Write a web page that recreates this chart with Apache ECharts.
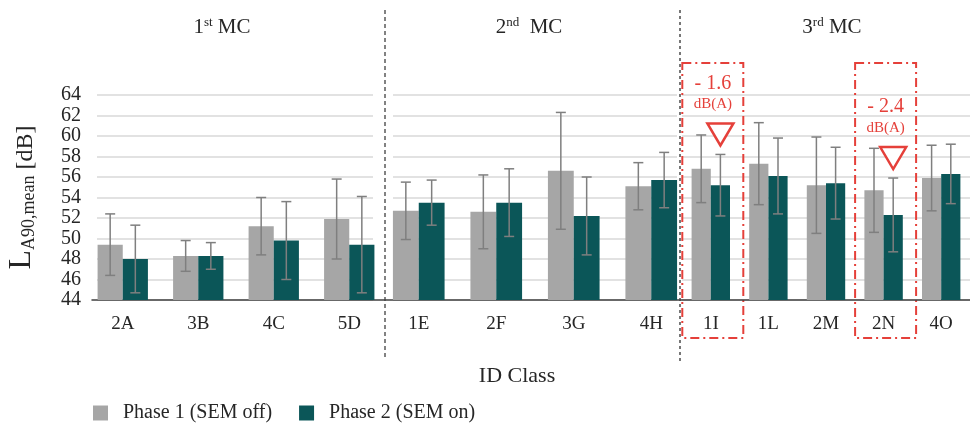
<!DOCTYPE html>
<html>
<head>
<meta charset="utf-8">
<script src="https://cdn.jsdelivr.net/npm/echarts@6/dist/echarts.min.js"></script>
<style>
  html, body { margin: 0; padding: 0; background: #fff; }
  #chart { width: 970px; height: 427px; }
</style>
</head>
<body>
<div id="chart"></div>
<script>
// ID classes per measurement campaign (MC)
const mc1Classes = ['2A', '3B', '4C', '5D'];
const mc2Classes = ['1E', '2F', '3G', '4H'];
const mc3Classes = ['1I', '1L', '2M', '2N', '4O'];

// Mean LA90 [dB], Phase 1 (SEM off)
const mc1Phase1 = [49.4, 48.3, 51.2, 51.9];
const mc2Phase1 = [52.7, 52.6, 56.6, 55.1];
const mc3Phase1 = [56.8, 57.3, 55.2, 54.7, 55.9];

// Mean LA90 [dB], Phase 2 (SEM on)
const mc1Phase2 = [48.0, 48.3, 49.8, 49.4];
const mc2Phase2 = [53.5, 53.5, 52.2, 55.7];
const mc3Phase2 = [55.2, 56.1, 55.4, 52.3, 56.3];

// Error bar half-widths [dB]
const mc1Err1 = [3.0, 1.5, 2.8, 3.9];
const mc2Err1 = [2.8, 3.6, 5.7, 2.3];
const mc3Err1 = [3.3, 4.0, 4.7, 4.1, 3.2];
const mc1Err2 = [3.3, 1.3, 3.8, 4.7];
const mc2Err2 = [2.2, 3.3, 3.8, 2.7];
const mc3Err2 = [3.0, 3.7, 3.5, 3.6, 2.9];

// Value axis
const yMin = 44, yMax = 64, yStep = 2;

// Classes in the 3rd MC with a highlighted reduction
const highlighted = ['1I', '2N'];

const seriesNames = ['Phase 1 (SEM off)', 'Phase 2 (SEM on)'];
const titles = [
  '{n|1}{s|st}{n| MC}',
  '{n|2}{s|nd}{n|  MC}',
  '{n|3}{s|rd}{n| MC}'
];

const FONT = '"Liberation Serif", "Times New Roman", serif';
const TEXT = '#262626';
const GREY = '#a6a6a6';
const TEAL = '#0b5658';
const ERR = '#7f7f7f';
const RED = '#e5403a';

const groups = [
  { cats: mc1Classes, p1: mc1Phase1, p2: mc1Phase2, e1: mc1Err1, e2: mc1Err2 },
  { cats: mc2Classes, p1: mc2Phase1, p2: mc2Phase2, e1: mc2Err1, e2: mc2Err2 },
  { cats: mc3Classes, p1: mc3Phase1, p2: mc3Phase2, e1: mc3Err1, e2: mc3Err2 }
];

// Bar panels, gridline panels, and one full-width frame for the baseline
const barGrids = [
  { left: 85, width: 302 },
  { left: 380, width: 310 },
  { left: 682, width: 300 }
];
const lineGrids = [
  { left: 97, width: 276 },
  { left: 393, width: 284 },
  { left: 682, width: 288 }
];
const frameGrid = { left: 92, width: 878 };

const grid = [];
const xAxis = [];
const yAxis = [];
const series = [];

barGrids.forEach((g, i) => {
  grid.push({ left: g.left, width: g.width, top: 95, height: 205 });
  xAxis.push({
    type: 'category', gridIndex: i, data: groups[i].cats,
    axisLine: { show: false }, axisTick: { show: false },
    axisLabel: { fontFamily: FONT, fontSize: 19, color: TEXT, margin: 15 }
  });
  yAxis.push({ type: 'value', gridIndex: i, min: yMin, max: yMax, interval: yStep, show: false });
});

lineGrids.forEach((g, i) => {
  grid.push({ left: g.left, width: g.width, top: 95, height: 205 });
  xAxis.push({ type: 'value', gridIndex: 3 + i, min: 0, max: 1, show: false });
  const ax = {
    type: 'value', gridIndex: 3 + i, min: yMin, max: yMax, interval: yStep,
    axisLine: { show: false }, axisTick: { show: false },
    splitLine: { show: true, lineStyle: { color: '#d9d9d9', width: 1.5 } },
    axisLabel: { show: i === 0, fontFamily: FONT, fontSize: 20, color: TEXT, margin: 16 }
  };
  if (i === 0) {
    ax.name = '{L|L}{s|A90,mean}{u| [dB]}';
    ax.nameLocation = 'middle';
    ax.nameRotate = 90;
    ax.nameGap = 59;
    ax.nameTextStyle = {
      rich: {
        L: { fontFamily: FONT, fontSize: 32, color: TEXT, verticalAlign: 'bottom' },
        s: { fontFamily: FONT, fontSize: 18, color: TEXT, verticalAlign: 'bottom' },
        u: { fontFamily: FONT, fontSize: 24, color: TEXT, verticalAlign: 'bottom' }
      }
    };
  }
  yAxis.push(ax);
});

grid.push({ left: frameGrid.left, width: frameGrid.width, top: 95, height: 205 });
xAxis.push({
  type: 'value', gridIndex: 6, min: 0, max: 1, position: 'bottom',
  axisLine: { show: true, onZero: false, lineStyle: { color: '#404040', width: 1.5 } },
  axisTick: { show: false }, axisLabel: { show: false }, splitLine: { show: false }
});
yAxis.push({ type: 'value', gridIndex: 6, min: yMin, max: yMax, show: false });

// Error bar drawn at the centre of a bar: side -1 = left bar, +1 = right bar
function errorRenderer(side) {
  return function (params, api) {
    const idx = api.value(0);
    const mean = api.value(1);
    const err = api.value(2);
    const band = api.size([1, 0])[0];
    const x = api.coord([idx, mean])[0] + side * band / 6;
    const yTop = api.coord([idx, mean + err])[1];
    const yBot = api.coord([idx, mean - err])[1];
    const cap = 5;
    const style = { stroke: ERR, lineWidth: 1.5 };
    return {
      type: 'group',
      children: [
        { type: 'line', shape: { x1: x, y1: yTop, x2: x, y2: yBot }, style },
        { type: 'line', shape: { x1: x - cap, y1: yTop, x2: x + cap, y2: yTop }, style },
        { type: 'line', shape: { x1: x - cap, y1: yBot, x2: x + cap, y2: yBot }, style }
      ]
    };
  };
}

groups.forEach((g, i) => {
  series.push({
    name: seriesNames[0], type: 'bar', xAxisIndex: i, yAxisIndex: i,
    data: g.p1, itemStyle: { color: GREY }, barGap: '0%', barCategoryGap: '33.34%'
  });
  series.push({
    name: seriesNames[1], type: 'bar', xAxisIndex: i, yAxisIndex: i,
    data: g.p2, itemStyle: { color: TEAL }, barGap: '0%', barCategoryGap: '33.34%'
  });
  series.push({
    type: 'custom', xAxisIndex: i, yAxisIndex: i, z: 5,
    renderItem: errorRenderer(-1), encode: { x: 0, y: 1 },
    data: g.p1.map((v, k) => [k, v, g.e1[k]])
  });
  series.push({
    type: 'custom', xAxisIndex: i, yAxisIndex: i, z: 5,
    renderItem: errorRenderer(1), encode: { x: 0, y: 1 },
    data: g.p2.map((v, k) => [k, v, g.e2[k]])
  });
});

const chart = echarts.init(document.getElementById('chart'), null, { renderer: 'canvas' });

chart.setOption({
  animation: false,
  backgroundColor: '#fff',
  grid, xAxis, yAxis, series,
  legend: {
    data: seriesNames, icon: 'rect', left: 88, top: 398,
    itemWidth: 15, itemHeight: 15, itemGap: 27,
    textStyle: { fontFamily: FONT, fontSize: 20, color: TEXT, padding: [0, 0, 0, 10] }
  }
});

// Decorations: campaign titles, dividers, axis title, highlighted classes
const graphic = [];
const titleX = [222, 529, 832];
titles.forEach((t, i) => {
  graphic.push({
    type: 'text', x: titleX[i], y: 27,
    style: {
      text: t, align: 'center', verticalAlign: 'middle',
      rich: {
        n: { fontFamily: FONT, fontSize: 21, fill: TEXT, verticalAlign: 'bottom' },
        s: { fontFamily: FONT, fontSize: 13, fill: TEXT, verticalAlign: 'top' }
      }
    }
  });
});
graphic.push({
  type: 'line', shape: { x1: 385, y1: 10, x2: 385, y2: 358 },
  style: { stroke: '#5a5a5a', lineWidth: 1.5, lineDash: [4, 3] }
});
graphic.push({
  type: 'line', shape: { x1: 680, y1: 10, x2: 680, y2: 362 },
  style: { stroke: '#1f1f1f', lineWidth: 1.2, lineDash: [3, 3] }
});
graphic.push({
  type: 'text', x: 517, y: 376,
  style: { text: 'ID Class', align: 'center', verticalAlign: 'middle', fontFamily: FONT, fontSize: 22, fill: TEXT }
});

const g3 = groups[2];
highlighted.forEach(cls => {
  const k = g3.cats.indexOf(cls);
  const finder = { xAxisIndex: 2, yAxisIndex: 2 };
  const cx = chart.convertToPixel(finder, [k, yMin])[0];
  const band = chart.convertToPixel(finder, [k + 1, yMin])[0] - cx;
  const gx = cx + band / 6;
  const errTop = chart.convertToPixel(finder, [k, g3.p2[k] + g3.e2[k]])[1];
  const triBottom = errTop - 9;
  const triTop = triBottom - 22;
  const drop = (g3.p1[k] - g3.p2[k]).toFixed(1);

  graphic.push({
    type: 'rect', shape: { x: cx - 28.5, y: 63, width: 61, height: 275 },
    style: { fill: 'none', stroke: RED, lineWidth: 2, lineDash: [9, 4, 2, 4] }
  });
  graphic.push({
    type: 'polygon', shape: { points: [[gx - 13, triTop], [gx + 13, triTop], [gx, triBottom]] },
    style: { fill: '#fff', stroke: RED, lineWidth: 2.5 }
  });
  graphic.push({
    type: 'text', x: cx + 2, y: triTop - 19,
    style: { text: 'dB(A)', align: 'center', verticalAlign: 'middle', fontFamily: FONT, fontSize: 15, fill: RED }
  });
  graphic.push({
    type: 'text', x: cx + 2, y: triTop - 40,
    style: { text: '- ' + drop, align: 'center', verticalAlign: 'middle', fontFamily: FONT, fontSize: 20, fill: RED }
  });
});

chart.setOption({ graphic });
</script>
</body>
</html>
